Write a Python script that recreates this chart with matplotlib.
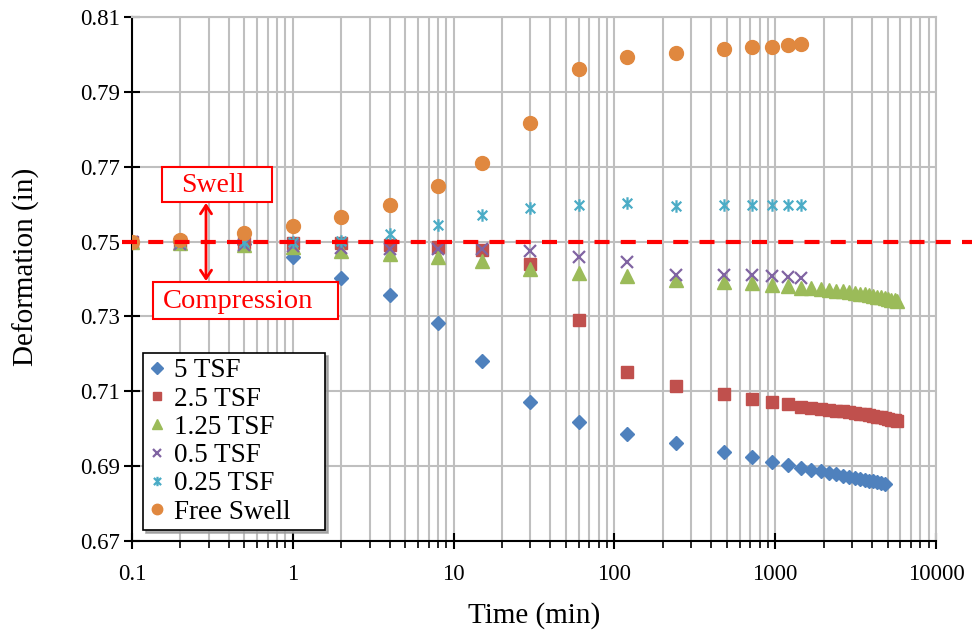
import matplotlib
matplotlib.use("Agg")
import matplotlib.pyplot as plt
from matplotlib.path import Path
from matplotlib.patches import Rectangle, FancyArrowPatch
from matplotlib.ticker import LogLocator, NullFormatter

plt.rcParams['font.family'] = ['Liberation Serif', 'DejaVu Serif']

# ---------------- data ----------------
t_main = [0.1, 0.2, 0.5, 1, 2, 4, 8, 15, 30, 60, 120, 240, 480, 720, 960, 1200, 1440]
t_tail_5 = [1680, 1920, 2160, 2400, 2640, 2880, 3120, 3360, 3600, 3840, 4080, 4320, 4560, 4800]
t_tail_long = [1680, 1920, 2160, 2400, 2640, 2880, 3120, 3360, 3600, 3840, 4080, 4320,
               4560, 4800, 5040, 5280, 5520, 5760]

tsf5 = [0.7500, 0.7500, 0.7493, 0.7460, 0.7403, 0.7356, 0.7282, 0.7182, 0.7072, 0.7017,
        0.6986, 0.6962, 0.6939, 0.6924, 0.6912, 0.6903, 0.6895]
tsf5_tail = [0.6890, 0.6886, 0.6882, 0.6878, 0.6875, 0.6872, 0.6869, 0.6866, 0.6864,
             0.6861, 0.6859, 0.6857, 0.6854, 0.6852]

tsf2_5 = [0.7500, 0.7500, 0.7497, 0.7495, 0.7495, 0.7492, 0.7485, 0.7477, 0.7439, 0.7290,
          0.7151, 0.7115, 0.7093, 0.7080, 0.7072, 0.7065, 0.7059]
tsf2_5_tail = [0.7056, 0.7053, 0.7050, 0.7048, 0.7046, 0.7044, 0.7042, 0.7040, 0.7038,
               0.7036, 0.7034, 0.7032, 0.7030, 0.7028, 0.7026, 0.7024, 0.7022, 0.7021]

tsf1_25 = [0.7500, 0.7497, 0.7490, 0.7485, 0.7475, 0.7467, 0.7460, 0.7448, 0.7426, 0.7415,
           0.7408, 0.7398, 0.7392, 0.7388, 0.7383, 0.7380, 0.7377]
tsf1_25_tail = [0.7375, 0.7373, 0.7371, 0.7369, 0.7367, 0.7365, 0.7363, 0.7361, 0.7359,
                0.7357, 0.7355, 0.7353, 0.7351, 0.7349, 0.7347, 0.7345, 0.7343, 0.7341]

tsf0_5 = [0.7500, 0.7493, 0.7490, 0.7488, 0.7484, 0.7480, 0.7480, 0.7481, 0.7475, 0.7460,
          0.7446, 0.7412, 0.7410, 0.7410, 0.7408, 0.7406, 0.7404]

tsf0_25 = [0.7500, 0.7500, 0.7500, 0.7500, 0.7502, 0.7520, 0.7545, 0.7571, 0.7591, 0.7598,
           0.7602, 0.7596, 0.7598, 0.7598, 0.7598, 0.7598, 0.7598]

free_swell = [0.7500, 0.7504, 0.7523, 0.7541, 0.7565, 0.7599, 0.7648, 0.7710, 0.7818, 0.7960,
              0.7993, 0.8005, 0.8014, 0.8020, 0.8021, 0.8025, 0.8028]

labels = ['5 TSF', '2.5 TSF', '1.25 TSF', '0.5 TSF', '0.25 TSF', 'Free Swell']
colors = ['#4F81BD', '#C0504D', '#9BBB59', '#8064A2', '#4BACC6', '#E0883F']

initial_height = 0.75
y_ticks = [0.67, 0.69, 0.71, 0.73, 0.75, 0.77, 0.79, 0.81]
x_ticks = [0.1, 1, 10, 100, 1000, 10000]
x_ticklabels = ['0.1', '1', '10', '100', '1000', '10000']

# ---------------- figure ----------------
W, H = 974, 630
fig = plt.figure(figsize=(W / 100, H / 100), dpi=100)
ax = fig.add_axes([132 / W, 1 - 541 / H, (936 - 132) / W, (541 - 17) / H])

star = Path([(-1, -1), (1, 1), (-1, 1), (1, -1), (0, -1.3), (0, 1.3)],
            [Path.MOVETO, Path.LINETO, Path.MOVETO, Path.LINETO, Path.MOVETO, Path.LINETO])

ax.plot(t_main + t_tail_5, tsf5 + tsf5_tail, ls='none', marker='D', ms=7.5,
        color=colors[0], mec=colors[0], label=labels[0], zorder=3)
ax.plot(t_main + t_tail_long, tsf2_5 + tsf2_5_tail, ls='none', marker='s', ms=8.5,
        color=colors[1], mec=colors[1], label=labels[1], zorder=3)
ax.plot(t_main + t_tail_long, tsf1_25 + tsf1_25_tail, ls='none', marker='^', ms=9.5,
        color=colors[2], mec=colors[2], label=labels[2], zorder=3)
ax.plot(t_main, tsf0_5, ls='none', marker='x', ms=8, mew=1.6,
        color=colors[3], label=labels[3], zorder=3)
ax.plot(t_main, tsf0_25, ls='none', marker=star, ms=9, mew=1.6, mfc='none',
        color=colors[4], label=labels[4], zorder=3)
ax.plot(t_main, free_swell, ls='none', marker='o', ms=10,
        color=colors[5], mec=colors[5], label=labels[5], zorder=3)

ax.axhline(initial_height, color='#FF0000', lw=3, ls=(0, (3.6, 2.7)), zorder=4,
           clip_on=False, xmin=-0.012, xmax=1.045)

ax.set_xscale('log')
ax.set_xlim(0.1, 10000)
ax.set_ylim(0.67, 0.81)
ax.set_xticks(x_ticks)
ax.set_xticklabels(x_ticklabels)
ax.xaxis.set_minor_locator(LogLocator(base=10, subs=range(2, 10), numticks=20))
ax.xaxis.set_minor_formatter(NullFormatter())
ax.set_yticks(y_ticks)
ax.set_yticklabels([f'{v:.2f}' for v in y_ticks])

ax.grid(True, which='major', axis='both', color='#BFBFBF', lw=1.5, zorder=0)
ax.grid(True, which='minor', axis='x', color='#BFBFBF', lw=1.5, zorder=0)
ax.set_axisbelow(True)

for s in ['top', 'right']:
    ax.spines[s].set_color('#BFBFBF')
    ax.spines[s].set_linewidth(1.5)
for s in ['left', 'bottom']:
    ax.spines[s].set_color('black')
    ax.spines[s].set_linewidth(1.5)

ax.tick_params(axis='both', which='major', direction='inout', length=11, width=1.5,
               labelsize=16.5, colors='black')
ax.tick_params(axis='x', which='major', pad=11)
ax.tick_params(axis='y', which='major', pad=3)
ax.tick_params(axis='x', which='minor', direction='out', length=5, width=1.2)

ax.set_xlabel('Time (min)', fontsize=21, labelpad=12)
ax.set_ylabel('Deformation (in)', fontsize=21)
ax.yaxis.set_label_coords((40 - 132) / 804, (541 - 267) / 524)

leg = ax.legend(loc='lower left', bbox_to_anchor=(143 / W, 1 - 530 / H, 182 / W, 177 / H),
                bbox_transform=fig.transFigure, mode='expand', borderaxespad=0,
                fontsize=19.5, frameon=True, fancybox=False,
                shadow={'color': '#999999', 'alpha': 0.8},
                edgecolor='black', framealpha=1, handlelength=0.6, handletextpad=0.35,
                labelspacing=0.12, borderpad=0.2, markerscale=0.75)
leg.get_frame().set_linewidth(1.2)
leg.set_zorder(6)

# Swell / Compression annotation boxes
fig.patches.append(Rectangle((162 / W, 1 - 202 / H), 110 / W, 35 / H, transform=fig.transFigure,
                             facecolor='white', edgecolor='#FF0000', lw=1.5, zorder=7))
fig.text(213 / W, 1 - 185 / H, 'Swell', color='#FF0000', fontsize=20,
         ha='center', va='center', zorder=8)
fig.patches.append(Rectangle((153 / W, 1 - 319 / H), 185 / W, 37 / H, transform=fig.transFigure,
                             facecolor='white', edgecolor='#FF0000', lw=1.5, zorder=7))
fig.text(238 / W, 1 - 301 / H, 'Compression', color='#FF0000', fontsize=20.5,
         ha='center', va='center', zorder=8)
fig.add_artist(FancyArrowPatch(
    (206 / W, 1 - 203 / H), (206 / W, 1 - 281 / H), transform=fig.transFigure,
    arrowstyle='<->,head_length=6,head_width=4', color='#FF0000', lw=2,
    shrinkA=0, shrinkB=0, zorder=7))

fig.savefig('out.png', dpi=100)
